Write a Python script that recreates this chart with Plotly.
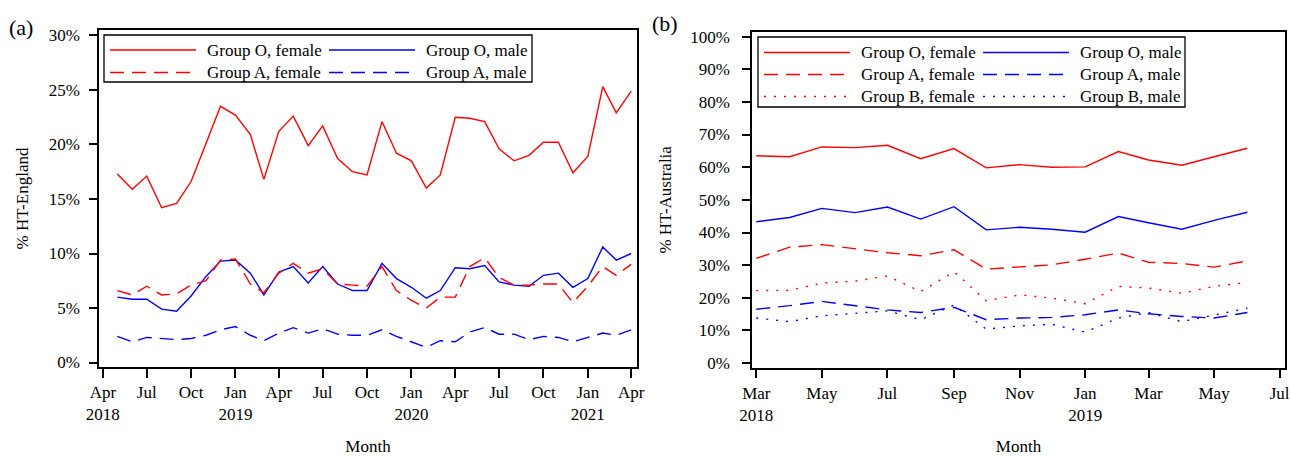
import plotly.graph_objects as go

W, H = 1291, 456

# ---------------- data: panel (a) England, monthly May 2018 - Apr 2021 ----------------
eng_months = [f"{y}-{m:02d}-01" for y, m in
              [(2018, m) for m in range(5, 13)] + [(2019, m) for m in range(1, 13)] +
              [(2020, m) for m in range(1, 13)] + [(2021, m) for m in range(1, 5)]]
eng_O_female = [17.3, 15.9, 17.1, 14.2, 14.6, 16.6, 20.1, 23.5, 22.7, 20.9, 16.8, 21.2,
                22.6, 19.9, 21.7, 18.7, 17.5, 17.2, 22.1, 19.2, 18.5, 16.0, 17.2, 22.5,
                22.4, 22.1, 19.6, 18.5, 19.0, 20.2, 20.2, 17.4, 18.9, 25.3, 22.9, 24.9]
eng_O_male = [6.0, 5.8, 5.8, 4.9, 4.7, 6.1, 7.9, 9.3, 9.4, 8.2, 6.2, 8.3,
              8.8, 7.3, 8.8, 7.2, 6.6, 6.6, 9.1, 7.7, 6.9, 5.9, 6.6, 8.7,
              8.6, 8.9, 7.4, 7.1, 7.0, 8.0, 8.2, 6.9, 7.7, 10.6, 9.4, 10.0]
eng_A_female = [6.6, 6.2, 7.0, 6.2, 6.3, 7.1, 7.5, 9.4, 9.5, 7.2, 6.4, 8.2,
                9.1, 8.2, 8.6, 7.2, 7.1, 7.0, 8.8, 6.6, 5.7, 5.0, 6.0, 6.0,
                8.8, 9.6, 7.8, 7.1, 7.1, 7.2, 7.2, 5.5, 7.0, 8.8, 8.0, 9.0]
eng_A_male = [2.4, 1.9, 2.3, 2.2, 2.1, 2.2, 2.5, 3.0, 3.3, 2.5, 2.0, 2.7,
              3.2, 2.7, 3.1, 2.6, 2.5, 2.5, 3.0, 2.4, 1.9, 1.4, 2.0, 1.9,
              2.8, 3.2, 2.6, 2.6, 2.1, 2.4, 2.3, 1.9, 2.3, 2.7, 2.5, 3.0]

eng_tickvals = ["2018-04-01", "2018-07-01", "2018-10-01", "2019-01-01", "2019-04-01",
                "2019-07-01", "2019-10-01", "2020-01-01", "2020-04-01", "2020-07-01",
                "2020-10-01", "2021-01-01", "2021-04-01"]
eng_ticktext = ["Apr<br>2018", "Jul", "Oct", "Jan<br>2019", "Apr", "Jul", "Oct",
                "Jan<br>2020", "Apr", "Jul", "Oct", "Jan<br>2021", "Apr"]
eng_yticks = [0, 5, 10, 15, 20, 25, 30]

# ---------------- data: panel (b) Australia, monthly Mar 2018 - Jun 2019 ----------------
aus_months = [f"{y}-{m:02d}-01" for y, m in
              [(2018, m) for m in range(3, 13)] + [(2019, m) for m in range(1, 7)]]
aus_O_female = [63.5, 63.2, 66.2, 66.0, 66.7, 62.6, 65.7, 59.8, 60.8, 60.0, 60.1, 64.8, 62.2, 60.6, 63.2, 65.8]
aus_O_male = [43.3, 44.6, 47.4, 46.1, 47.8, 44.1, 47.9, 40.8, 41.6, 41.0, 40.1, 44.9, 43.0, 41.0, 43.7, 46.2]
aus_A_female = [32.1, 35.5, 36.3, 35.1, 33.8, 32.9, 34.7, 28.8, 29.4, 30.1, 31.8, 33.7, 30.9, 30.5, 29.4, 31.3]
aus_A_male = [16.5, 17.6, 18.9, 17.5, 16.3, 15.5, 17.1, 13.3, 13.8, 14.0, 14.8, 16.3, 15.1, 14.3, 13.8, 15.5]
aus_B_female = [22.2, 22.3, 24.5, 25.1, 26.7, 21.9, 28.0, 19.1, 20.9, 19.9, 18.2, 23.5, 23.0, 21.4, 23.5, 24.7]
aus_B_male = [13.8, 12.7, 14.5, 15.3, 16.0, 13.3, 17.8, 10.4, 11.4, 11.9, 9.5, 13.8, 15.5, 12.7, 14.8, 16.8]

aus_tickvals = ["2018-03-01", "2018-05-01", "2018-07-01", "2018-09-01", "2018-11-01",
                "2019-01-01", "2019-03-01", "2019-05-01", "2019-07-01"]
aus_ticktext = ["Mar<br>2018", "May", "Jul", "Sep", "Nov", "Jan<br>2019", "Mar", "May", "Jul"]
aus_yticks = [0, 10, 20, 30, 40, 50, 60, 70, 80, 90, 100]

# ---------------- styles ----------------
FONT = "Liberation Serif"
RED, BLUE = "#ff0000", "#0000ff"
DASH = "14px,8px"
DOT = "2px,8px"

eng_series = [
    ("Group O, female", eng_O_female, RED, "solid"),
    ("Group O, male", eng_O_male, BLUE, "solid"),
    ("Group A, female", eng_A_female, RED, DASH),
    ("Group A, male", eng_A_male, BLUE, DASH),
]
aus_series = [
    ("Group O, female", aus_O_female, RED, "solid"),
    ("Group O, male", aus_O_male, BLUE, "solid"),
    ("Group A, female", aus_A_female, RED, DASH),
    ("Group A, male", aus_A_male, BLUE, DASH),
    ("Group B, female", aus_B_female, RED, DOT),
    ("Group B, male", aus_B_male, BLUE, DOT),
]

fig = go.Figure()
for name, ys, col, dash in eng_series:
    fig.add_trace(go.Scatter(x=eng_months, y=ys, mode="lines", name=name, showlegend=False,
                             line=dict(color=col, width=1.4, dash=dash), xaxis="x", yaxis="y"))
for name, ys, col, dash in aus_series:
    fig.add_trace(go.Scatter(x=aus_months, y=ys, mode="lines", name=name, showlegend=False,
                             line=dict(color=col, width=1.4, dash=dash), xaxis="x2", yaxis="y2"))


def px_x(p):
    return p / W


def px_y(p):
    return 1 - p / H


tickfont = dict(family=FONT, size=17, color="black")
common_axis = dict(showline=True, mirror=True, linecolor="black", linewidth=1.5,
                   ticks="outside", tickcolor="black", tickwidth=1.5, showgrid=False,
                   zeroline=False, tickfont=tickfont, automargin=False)

fig.update_layout(
    width=W, height=H, margin=dict(l=0, r=0, t=0, b=0),
    paper_bgcolor="white", plot_bgcolor="white",
    font=dict(family=FONT, size=17, color="black"),
    xaxis=dict(domain=[px_x(99), px_x(637)], type="date",
               range=["2018-03-24", "2021-04-13"], tickmode="array",
               tickvals=eng_tickvals, ticktext=eng_ticktext, ticklen=9,
               title=dict(text="Month", font=dict(family=FONT, size=17), standoff=18),
               anchor="y", **common_axis),
    yaxis=dict(domain=[px_y(367), px_y(30)], range=[-0.41, 30.5], tickmode="array",
               tickvals=eng_yticks, ticktext=[f"{v}%" for v in eng_yticks], ticklen=8,
               ticklabelstandoff=6,
               title=dict(text="% HT-England", font=dict(family=FONT, size=17), standoff=16),
               anchor="x", **common_axis),
    xaxis2=dict(domain=[px_x(752), px_x(1285)], type="date",
                range=["2018-02-25", "2019-07-06"], tickmode="array",
                tickvals=aus_tickvals, ticktext=aus_ticktext, ticklen=9,
                title=dict(text="Month", font=dict(family=FONT, size=17), standoff=18),
                anchor="y2", **common_axis),
    yaxis2=dict(domain=[px_y(367.7), px_y(32)], range=[-1.4, 101.4], tickmode="array",
                tickvals=aus_yticks, ticktext=[f"{v}%" for v in aus_yticks], ticklen=8,
                ticklabelstandoff=9,
                title=dict(text="% HT-Australia", font=dict(family=FONT, size=17), standoff=14),
                anchor="x2", **common_axis),
)

# ---------------- legends drawn as boxed keys (R-style) ----------------
shapes = []
annotations = []


def add_legend(series, box, col_x, row_y):
    x0, y0, x1, y1 = box
    shapes.append(dict(type="rect", xref="paper", yref="paper",
                       x0=px_x(x0), x1=px_x(x1), y0=px_y(y1), y1=px_y(y0),
                       line=dict(color="black", width=1.3), fillcolor="white", layer="above"))
    for i, (name, _, col, dash) in enumerate(series):
        r, c = divmod(i, 2)
        sx = col_x[c]
        sy = row_y[r]
        shapes.append(dict(type="line", xref="paper", yref="paper",
                           x0=px_x(sx), x1=px_x(sx + 86), y0=px_y(sy), y1=px_y(sy),
                           line=dict(color=col, width=1.4, dash=dash), layer="above"))
        annotations.append(dict(text=name, xref="paper", yref="paper", x=px_x(sx + 95),
                                y=px_y(sy), xanchor="left", yanchor="middle", showarrow=False,
                                font=dict(family=FONT, size=17, color="black")))


add_legend(eng_series, (104, 35, 532, 82), (110, 329), (50, 72.5))
add_legend(aus_series, (758, 37, 1185, 107), (764, 983), (52.5, 74.5, 96.5))

annotations.append(dict(text="(a)", xref="paper", yref="paper", x=px_x(21), y=px_y(28),
                        xanchor="center", yanchor="middle", showarrow=False,
                        font=dict(family=FONT, size=22, color="black")))
annotations.append(dict(text="(b)", xref="paper", yref="paper", x=px_x(665), y=px_y(24),
                        xanchor="center", yanchor="middle", showarrow=False,
                        font=dict(family=FONT, size=22, color="black")))

fig.update_layout(shapes=shapes, annotations=annotations)

fig.write_html("out.html")
